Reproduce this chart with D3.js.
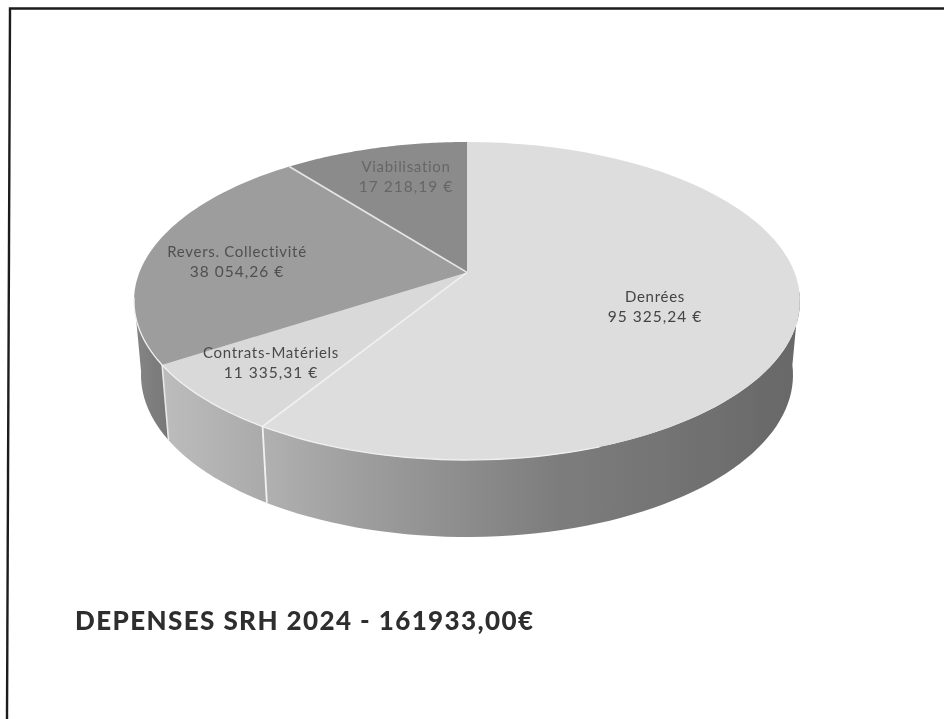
<!DOCTYPE html>
<html><head><meta charset="utf-8">
<script src="https://cdn.jsdelivr.net/npm/d3@7"></script>
<style>html,body{margin:0;padding:0;background:#fff}svg{display:block}</style>
</head><body><div id="c"></div>
<script>
const categories=["Denrées","Contrats-Matériels","Revers. Collectivité","Viabilisation"];
const values=[95325.24,11335.31,38054.26,17218.19];
const valueLabels=["95 325,24 €","11 335,31 €","38 054,26 €","17 218,19 €"];
const title="DEPENSES SRH 2024 - 161933,00€";

const topColors=["#dddddd","#d9d9d9","#9d9d9d","#8b8b8b"];
const labelColors=["#444","#4a4a4a","#505050","#666"];
const W=944,H=719;
const svg=d3.select("#c").append("svg").attr("width",W).attr("height",H);
const defs=svg.append("defs");
defs.append("filter").attr("id","soft").attr("x","-5%").attr("y","-20%").attr("width","110%").attr("height","140%")
  .append("feGaussianBlur").attr("stdDeviation",0.45);

const e=-0.18;
const pie=d3.pie().sort(null).startAngle(0).endAngle(2*Math.PI);
const arcs=pie(values);
// project a rim angle (clockwise from 12 o'clock) onto the tilted unit disc
function proj(t,r=1){
  const x=r*Math.sin(t),y=-r*Math.cos(t),d=1+e*y;
  return [x*Math.sqrt(1-e*e)/d,(y+e)/d];
}
const xTop=d3.scaleLinear().domain([-1,1]).range([134,800]);
const yTop=d3.scaleLinear().domain([-1,1]).range([142,460]);
const xBot=d3.scaleLinear().domain([-1,1]).range([141,793]);
const yBot=d3.scaleLinear().domain([-1,1]).range([213,537]);
const topPt=t=>{const p=proj(t);return [xTop(p[0]),yTop(p[1])];};
const botPt=t=>{const p=proj(t);return [xBot(p[0]),yBot(p[1])];};
const line=d3.line();
const angles=(a,b)=>d3.range(0,61).map(i=>a+(b-a)*i/60);

// side walls
const rightLimit=Math.PI/2+0.12, leftLimit=Math.PI*1.5-0.16;
const sides=[
 {from:rightLimit,to:arcs[0].endAngle,stops:[[0,"#686868"],[.45,"#7d7d7d"],[.8,"#9c9c9c"],[1,"#b0b0b0"]],x1:797,x2:266},
 {from:arcs[1].startAngle,to:arcs[1].endAngle,stops:[[0,"#aaaaaa"],[1,"#bcbcbc"]],x1:266,x2:165},
 {from:arcs[2].startAngle,to:leftLimit,stops:[[0,"#777777"],[1,"#858585"]],x1:168,x2:136}
];
const chart=svg.append("g").attr("filter","url(#soft)");
sides.forEach((s,i)=>{
  const g=defs.append("linearGradient").attr("id","side"+i).attr("gradientUnits","userSpaceOnUse")
    .attr("x1",s.x1).attr("x2",s.x2).attr("y1",0).attr("y2",0);
  s.stops.forEach(st=>g.append("stop").attr("offset",st[0]).attr("stop-color",st[1]));
  const as=angles(s.from,s.to);
  const pts=as.map(topPt).concat(as.slice().reverse().map(botPt));
  chart.append("path").attr("class","side").attr("d",line(pts)+"Z").attr("fill",`url(#side${i})`);
});
// pale seams between walls
[[arcs[0].endAngle,"#f2f2f2",1.8],[arcs[1].endAngle,"#e8e8e8",1.6]].forEach(s=>{
  chart.append("path").attr("d",line([topPt(s[0]),botPt(s[0])])).attr("stroke",s[1]).attr("stroke-width",s[2]).attr("fill","none");
});

// top face
const apex=[xTop(proj(0,0)[0]),yTop(proj(0,0)[1])];
arcs.forEach((a,i)=>{
  const pts=[apex].concat(angles(a.startAngle,a.endAngle).map(topPt));
  chart.append("path").attr("class","slice").attr("d",line(pts)+"Z").attr("fill",topColors[i]);
});
// seams on the top face
[[arcs[0].endAngle,"#f0f0f0",1.6],[arcs[2].endAngle,"#e6e6e6",1.7]].forEach(s=>{
  chart.append("path").attr("d",line([apex,topPt(s[0])])).attr("stroke",s[1]).attr("stroke-width",s[2]).attr("fill","none");
});
// pale rim along the front of the top face
chart.append("path").attr("d",line(angles(arcs[0].endAngle-0.9,leftLimit).map(topPt)))
  .attr("stroke","#f0f0f0").attr("stroke-width",1.3).attr("fill","none");

// labels: [centre x, first baseline]
const labelAnchors=[[655,302],[271,358],[237,257],[406,172]];
const font="'Lato','Noto Sans',sans-serif";
const labels=svg.append("g").attr("filter","url(#soft)");
categories.forEach((c,i)=>{
  const [lx,ly]=labelAnchors[i];
  const t=labels.append("text").attr("text-anchor","middle").attr("font-family",font)
    .attr("font-size",15).attr("fill",labelColors[i]).attr("letter-spacing",0.7);
  t.append("tspan").attr("x",lx).attr("y",ly).text(c);
  t.append("tspan").attr("x",lx).attr("y",ly+20).attr("font-size",15.5).attr("letter-spacing",1).text(valueLabels[i]);
});
labels.append("text").attr("x",75).attr("y",630).attr("font-family",font).attr("font-weight",900)
  .attr("font-size",26).attr("fill","#2f2f2f").attr("letter-spacing",1.4).text(title);

// frame
svg.append("path").attr("d","M944 8.5H10L7 719").attr("fill","none").attr("stroke","#1c1c1c").attr("stroke-width",2.4).attr("filter","url(#soft)");
</script></body></html>
